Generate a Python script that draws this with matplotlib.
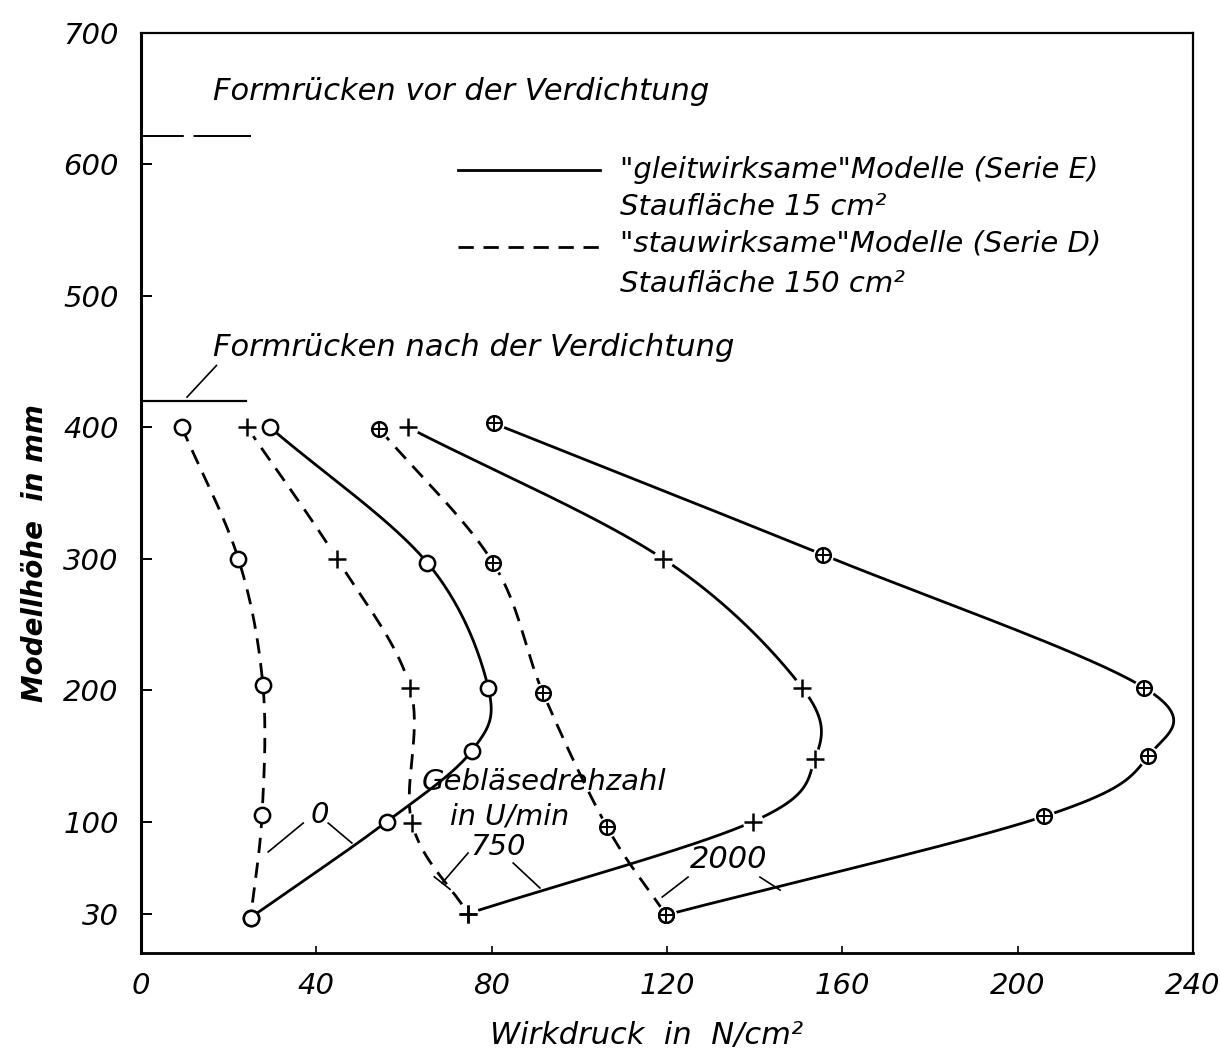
import numpy as np
import matplotlib
matplotlib.use("Agg")
import matplotlib.pyplot as plt

# ---------------------------------------------------------------- data
# Wirkdruck (N/cm^2) and Modellhöhe (mm) for each fan speed
d0_x = [9.3, 22.2, 27.8, 27.6, 25.0]
d0_y = [400, 300, 204, 105, 27]
e0_x = [29.4, 65.3, 79.2, 75.5, 56.1, 25.0]
e0_y = [400, 297, 202, 154, 100, 27]

d750_x = [24.2, 44.7, 61.4, 61.8, 74.6]
d750_y = [400, 300, 202, 99, 30]
e750_x = [60.9, 119.1, 150.8, 153.8, 139.6, 74.6]
e750_y = [400, 300, 202, 148, 100, 30]

d2000_x = [54.3, 80.3, 91.7, 106.3, 119.8]
d2000_y = [399, 297, 198, 96, 29]
e2000_x = [80.5, 155.6, 228.8, 229.8, 206.0, 119.8]
e2000_y = [403, 303, 202, 150, 104, 29]

x_ticks = [0, 40, 80, 120, 160, 200, 240]
y_ticks = [30, 100, 200, 300, 400, 500, 600, 700]

form_before = 622   # Formrücken vor der Verdichtung
form_after = 420    # Formrücken nach der Verdichtung

# ---------------------------------------------------------------- fonts
plt.rcParams["font.family"] = ["DejaVu Sans"]
plt.rcParams["mathtext.fontset"] = "dejavusans"

def txt(ax, x, y, s, size=21, **kw):
    kw.setdefault("ha", "left")
    kw.setdefault("va", "baseline")
    ax.text(x, y, s, fontsize=size, style="italic", color="black", **kw)

# ---------------------------------------------------------------- smooth curve helper
SX, SY = 4.383, 1.314  # aspect used so the spline is built in screen-like units

def smooth(xs, ys, n=40, alpha=0.0):
    p = np.column_stack([np.asarray(xs) * SX, np.asarray(ys) * SY]).astype(float)
    p = np.vstack([2 * p[0] - p[1], p, 2 * p[-1] - p[-2]])
    out = []
    for i in range(1, len(p) - 2):
        p0, p1, p2, p3 = p[i - 1], p[i], p[i + 1], p[i + 2]
        t0 = 0.0
        t1 = t0 + np.linalg.norm(p1 - p0) ** alpha
        t2 = t1 + np.linalg.norm(p2 - p1) ** alpha
        t3 = t2 + np.linalg.norm(p3 - p2) ** alpha
        t = np.linspace(t1, t2, n)[:, None]
        a1 = (t1 - t) / (t1 - t0) * p0 + (t - t0) / (t1 - t0) * p1
        a2 = (t2 - t) / (t2 - t1) * p1 + (t - t1) / (t2 - t1) * p2
        a3 = (t3 - t) / (t3 - t2) * p2 + (t - t2) / (t3 - t2) * p3
        b1 = (t2 - t) / (t2 - t0) * a1 + (t - t0) / (t2 - t0) * a2
        b2 = (t3 - t) / (t3 - t1) * a2 + (t - t1) / (t3 - t1) * a3
        c = (t2 - t) / (t2 - t1) * b1 + (t - t1) / (t2 - t1) * b2
        out.append(c if i == 1 else c[1:])
    c = np.vstack(out)
    return c[:, 0] / SX, c[:, 1] / SY

# ---------------------------------------------------------------- figure
fig = plt.figure(figsize=(12.2, 10.51), dpi=100)
ax = fig.add_axes([0.1156, 0.0932, 0.8623, 0.8754])
ax.set_xlim(0, 240)
ax.set_ylim(0, 700)

LW = 2.0
DASH = (0, (5.5, 3.5))

def draw(xs, ys, dashed, marker):
    cx, cy = smooth(xs, ys)
    ax.plot(cx, cy, color="black", lw=LW, ls=DASH if dashed else "-",
            solid_capstyle="round", dash_capstyle="butt", zorder=2)
    if marker == "o":
        ax.plot(xs, ys, ls="none", marker="o", ms=11, mfc="white", mec="black",
                mew=1.8, zorder=4)
    elif marker == "+":
        ax.plot(xs, ys, ls="none", marker="o", ms=15, mfc="white", mec="white",
                mew=0, zorder=3)
        ax.plot(xs, ys, ls="none", marker="+", ms=13, mec="black", mew=1.8,
                zorder=4)
    else:
        ax.plot(xs, ys, ls="none", marker="o", ms=15, mfc="white", mec="white",
                mew=0, zorder=3)
        ax.plot(xs, ys, ls="none", marker="o", ms=10.5, mfc="white", mec="black",
                mew=1.8, zorder=4)
        ax.plot(xs, ys, ls="none", marker="+", ms=10.5, mec="black", mew=1.4,
                zorder=5)

draw(d0_x, d0_y, True, "o")
draw(e0_x, e0_y, False, "o")
draw(d750_x, d750_y, True, "+")
draw(e750_x, e750_y, False, "+")
draw(d2000_x, d2000_y, True, "x")
draw(e2000_x, e2000_y, False, "x")

# ---------------------------------------------------------------- reference levels
ax.plot([0, 25], [form_before, form_before], color="black", lw=1.4,
        ls=(0, (22, 5, 45, 5)), zorder=2)
ax.plot([0, 24], [form_after, form_after], color="black", lw=1.6, zorder=2)
ax.plot([10.5, 17.2], [423, 447], color="black", lw=1.2, zorder=2)
txt(ax, 16.4, 649, "Formrücken vor der Verdichtung", size=22)
txt(ax, 16.4, 454, "Formrücken nach der Verdichtung", size=22)

# ---------------------------------------------------------------- key
ax.plot([72.2, 104.7], [596, 596], color="black", lw=LW)
ax.plot([72.2, 104.7], [537.5, 537.5], color="black", lw=LW, ls=DASH)
txt(ax, 109.3, 590, "\"gleitwirksame\"Modelle (Serie E)")
txt(ax, 109.3, 561.5, "Staufläche 15 cm\u00b2")
txt(ax, 109.3, 533.5, "\"stauwirksame\"Modelle (Serie D)")
txt(ax, 109.3, 503, "Staufläche 150 cm\u00b2")

# ---------------------------------------------------------------- fan speed labels
txt(ax, 64.1, 124, "Gebläsedrehzahl")
txt(ax, 70.5, 97.5, "in U/min", size=20.5)
txt(ax, 38.6, 99, "0")
txt(ax, 75.1, 74.6, "750")
txt(ax, 125.3, 64.7, "2000", size=22)

leaders = [
    ([37.0, 29.0], [98.9, 76.9]),
    ([42.7, 48.1], [98.9, 83.7]),
    ([74.6, 68.7], [76.1, 53.3]),
    ([66.9, 70.5], [58.0, 48.5]),
    ([84.9, 91.0], [68.5, 49.5]),
    ([124.8, 118.9], [57.8, 42.6]),
    ([141.2, 145.8], [57.8, 47.9]),
]
for lx, ly in leaders:
    ax.plot(lx, ly, color="black", lw=1.2, zorder=2)

# ---------------------------------------------------------------- axes styling
ax.set_xticks(x_ticks)
ax.set_xticklabels([str(v) for v in x_ticks])
ax.set_yticks(y_ticks)
ax.set_yticklabels([str(v) for v in y_ticks])
ax.tick_params(axis="y", direction="in", length=8, width=1.4, pad=16,
               labelsize=21)
ax.tick_params(axis="x", direction="in", length=5, width=1.2, pad=14,
               labelsize=21)
for lab in ax.get_xticklabels() + ax.get_yticklabels():
    lab.set_style("italic")
ax.spines["left"].set_linewidth(2.2)
ax.spines["bottom"].set_linewidth(2.0)
ax.spines["top"].set_linewidth(1.6)
ax.spines["right"].set_linewidth(1.6)

fig.text(35 / 1220, 1 - 553 / 1051, "Modellhöhe  in mm", rotation=90,
         fontsize=20, style="italic", weight="bold", ha="center", va="center")
fig.text(647 / 1220, 1 - 1044 / 1051, "Wirkdruck  in  N/cm\u00b2",
         fontsize=22, style="italic", ha="center", va="baseline")

fig.savefig("out.png", dpi=100, facecolor="white")
